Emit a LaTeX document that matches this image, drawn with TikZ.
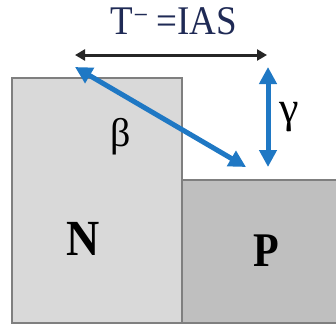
\documentclass[tikz,border=0pt]{standalone}
\usepackage{fontspec}
\setmainfont{Liberation Serif}
\usetikzlibrary{arrows.meta}
\definecolor{navy}{HTML}{1F2A55}
\definecolor{blu}{HTML}{1F78C4}
\definecolor{lgray}{HTML}{D9D9D9}
\definecolor{dgray}{HTML}{BFBFBF}
\definecolor{edge}{HTML}{7F7F7F}
\begin{document}
\begin{tikzpicture}[x=1pt,y=-1pt,
  region/.style={draw=edge,line width=1.2pt},
  blueline/.style={blu,line width=5pt,{Triangle[length=17pt,width=17pt]}-{Triangle[length=17pt,width=17pt]}},
  blackline/.style={black!85,line width=3pt,{Triangle[length=10pt,width=11pt]}-{Triangle[length=10pt,width=11pt]}},
  lbl/.style={inner sep=0pt}]
\useasboundingbox (0,0) rectangle (336,325);
\fill[white] (0,0) rectangle (336,325);
\draw[region,fill=dgray] (182,180) rectangle (337,323);
\draw[region,fill=lgray] (12,78) rectangle (182,323);
\node[lbl,text=navy,font=\fontsize{37}{40}\selectfont] (t) at (174,21) {\scalebox{1}[1.1]{T\textsuperscript{−}\kern8pt=IAS}};
\coordinate (bl) at (75,55);
\coordinate (br) at (267,55);
\draw[blackline] (bl) -- (br);
\coordinate (d1) at (75,67);
\coordinate (d2) at (246,167);
\draw[blueline] (d1) -- (d2);
\coordinate (g1) at (268,67);
\coordinate (g2) at (268,167);
\draw[blueline] (g1) -- (g2);
\node[lbl,font=\fontsize{40}{42}\selectfont] (beta) at (121,137) {β};
\node[lbl,font=\fontsize{44}{46}\selectfont] (gamma) at (289,117) {γ};
\node[lbl,font=\fontsize{46}{50}\selectfont\bfseries] (n) at (83,239) {\scalebox{1}[1.1]{N}};
\node[lbl,font=\fontsize{42}{50}\selectfont\bfseries] (p) at (266,251) {\scalebox{1}[1.15]{P}};
\end{tikzpicture}
\end{document}
